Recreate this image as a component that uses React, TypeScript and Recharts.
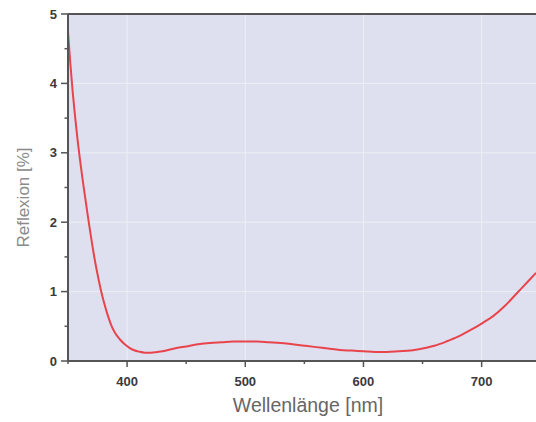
import React from "react";
import {
  LineChart,
  Line,
  XAxis,
  YAxis,
  CartesianGrid,
  ReferenceLine,
} from "recharts";

// Wellenlänge (nm) und Reflexion (%)
const wavelengths = [
  350, 352, 354, 356, 358, 360, 362, 364, 366, 368, 370, 372, 375, 378, 381,
  384, 387, 390, 394, 398, 402, 406, 410, 415, 420, 430, 440, 450, 460, 470,
  480, 490, 500, 510, 520, 530, 540, 550, 560, 570, 580, 590, 600, 610, 620,
  630, 640, 650, 660, 670, 680, 690, 700, 710, 720, 730, 740, 746,
];
const reflexion = [
  4.74, 4.28, 3.87, 3.52, 3.2, 2.92, 2.66, 2.42, 2.18, 1.95, 1.73, 1.52, 1.25,
  1.01, 0.81, 0.64, 0.5, 0.4, 0.31, 0.24, 0.19, 0.155, 0.135, 0.12, 0.12, 0.14,
  0.18, 0.21, 0.24, 0.26, 0.27, 0.28, 0.28, 0.28, 0.27, 0.26, 0.24, 0.22, 0.2,
  0.18, 0.16, 0.15, 0.14, 0.13, 0.13, 0.14, 0.15, 0.18, 0.22, 0.28, 0.35, 0.44,
  0.54, 0.65, 0.8, 0.98, 1.16, 1.27,
];

const xTicks = [350, 400, 450, 500, 550, 600, 650, 700];
const yTicks = [0, 0.5, 1, 1.5, 2, 2.5, 3, 3.5, 4, 4.5, 5];
const xMajor = [400, 500, 600, 700];
const yMajor = [1, 2, 3, 4];

const data = wavelengths.map((wl, i) => ({ wl, r: reflexion[i] }));

const AXIS = "#555";
const FONT = "'Liberation Sans', Arial, sans-serif";

const XTick = (props: any) => {
  const { x, y, payload } = props;
  const v = payload.value;
  const major = v % 100 === 0;
  return (
    <g>
      <line x1={x} x2={x} y1={y} y2={y + (major ? 6 : 3)} stroke={AXIS} strokeWidth={1.5} />
      {major && (
        <text x={x} y={y + 25} textAnchor="middle" fontSize={13} fontWeight={600} fill="#3a3a3a" fontFamily={FONT}>
          {v}
        </text>
      )}
    </g>
  );
};

const YTick = (props: any) => {
  const { x, y, payload } = props;
  const v = payload.value;
  const major = Number.isInteger(v);
  return (
    <g>
      <line x1={x - (major ? 7 : 3.5)} x2={x} y1={y} y2={y} stroke={AXIS} strokeWidth={1.5} />
      {major && (
        <text x={x - 11} y={y + 4.5} textAnchor="end" fontSize={13} fontWeight={600} fill="#3a3a3a" fontFamily={FONT}>
          {v}
        </text>
      )}
    </g>
  );
};

const YTitle = (props: any) => {
  const { viewBox } = props;
  const cy = viewBox.y + viewBox.height / 2 + 10;
  return (
    <text
      x={23}
      y={cy}
      transform={`rotate(-90, 23, ${cy})`}
      textAnchor="middle"
      dominantBaseline="central"
      fontSize={17}
      fill="#8a8a8a"
      fontFamily={FONT}
    >
      Reflexion [%]
    </text>
  );
};

export default function App() {
  return (
    <div style={{ position: "absolute", left: 0, top: 0, width: 536, height: 422, background: "#fff" }}>
      <LineChart width={536} height={422} data={data} margin={{ top: 14, right: 0, bottom: 0, left: 0 }}>
        <CartesianGrid
          fill="#dfe0ef"
          stroke="#eeeef7"
          strokeWidth={1}
          horizontalValues={yMajor}
          verticalValues={xMajor}
        />
        <XAxis
          dataKey="wl"
          type="number"
          domain={[350, 746]}
          allowDataOverflow
          ticks={xTicks}
          height={61}
          tickSize={0}
          tickMargin={0}
          tickLine={false}
          axisLine={{ stroke: AXIS, strokeWidth: 2 }}
          tick={<XTick />}
          label={{
            value: "Wellenlänge [nm]",
            position: "insideBottom",
            offset: 10,
            fontSize: 19.5,
            fill: "#666",
            fontFamily: FONT,
            dx: 6,
          }}
        />
        <YAxis
          type="number"
          domain={[0, 5]}
          ticks={yTicks}
          width={68}
          tickSize={0}
          tickMargin={0}
          tickLine={false}
          axisLine={{ stroke: AXIS, strokeWidth: 2 }}
          tick={<YTick />}
          label={<YTitle />}
        />
        <ReferenceLine y={5} stroke={AXIS} strokeWidth={2} />
        <Line
          dataKey="r"
          type="monotone"
          stroke="#e8444c"
          strokeWidth={2}
          dot={false}
          isAnimationActive={false}
        />
      </LineChart>
    </div>
  );
}
